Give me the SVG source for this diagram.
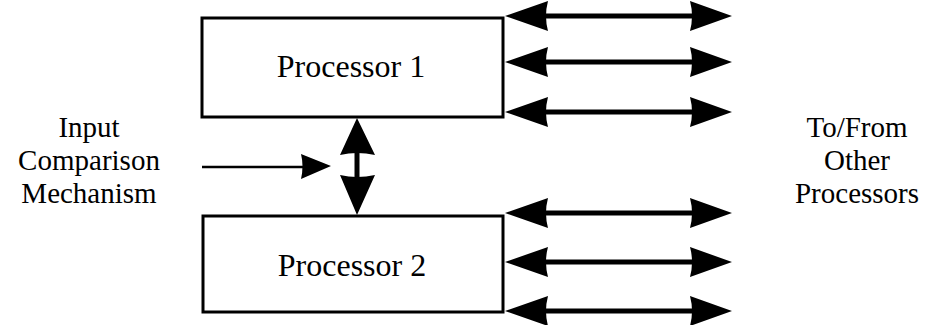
<svg xmlns="http://www.w3.org/2000/svg" width="933" height="325" viewBox="0 0 933 325">
  <style>
    .box { fill: #ffffff; stroke: #000000; stroke-width: 3; }
    .label { font-family: "Liberation Serif", "Times New Roman", serif; font-size: 32px; fill: #000000; text-anchor: middle; }
    .side { font-family: "Liberation Serif", "Times New Roman", serif; font-size: 29px; fill: #000000; text-anchor: middle; }
    .bus { stroke: #000000; stroke-width: 5; fill: none; }
    .thin { stroke: #000000; stroke-width: 2.5; fill: none; }
    .head { fill: #000000; stroke: none; }
  </style>
  <defs>
    <!-- double-headed bus arrow, drawn along x from 0 to 227 -->
    <g id="busArrow">
      <line class="bus" x1="40" y1="0" x2="190" y2="0"/>
      <path class="head" d="M0,0 L43,-15 Q39,0 43,15 Z"/>
      <path class="head" d="M227,0 L185,-15 Q189,0 185,15 Z"/>
    </g>
  </defs>

  <rect width="933" height="325" fill="#ffffff"/>

  <g id="processor1">
    <rect class="box" x="202" y="18" width="301" height="99"/>
    <text class="label" x="351" y="77">Processor 1</text>
  </g>

  <g id="processor2">
    <rect class="box" x="203" y="216" width="300" height="96"/>
    <text class="label" x="352" y="276">Processor 2</text>
  </g>

  <g id="input-comparison">
    <text class="side" x="89" y="137">Input</text>
    <text class="side" x="89" y="170">Comparison</text>
    <text class="side" x="89" y="203">Mechanism</text>
  </g>

  <g id="other-processors">
    <text class="side" x="857" y="137">To/From</text>
    <text class="side" x="857" y="170">Other</text>
    <text class="side" x="857" y="203">Processors</text>
  </g>

  <g id="connectors">
    <!-- input comparison feed -->
    <line class="thin" x1="202" y1="167" x2="305" y2="167"/>
    <path class="head" d="M331,166 L301,154 Q304,166 301,179 Z"/>

    <!-- link between the two processors -->
    <line class="bus" x1="357" y1="150" x2="357" y2="180" stroke-width="6"/>
    <path class="head" d="M357,118 L340,155 Q357,151 375,155 Z"/>
    <path class="head" d="M357,215 L340,175 Q357,179 375,175 Z"/>

    <!-- buses to other processors -->
    <use href="#busArrow" x="505" y="16"/>
    <use href="#busArrow" x="505" y="62"/>
    <use href="#busArrow" x="505" y="112"/>
    <use href="#busArrow" x="505" y="213"/>
    <use href="#busArrow" x="505" y="262"/>
    <use href="#busArrow" x="505" y="311"/>
  </g>
</svg>
